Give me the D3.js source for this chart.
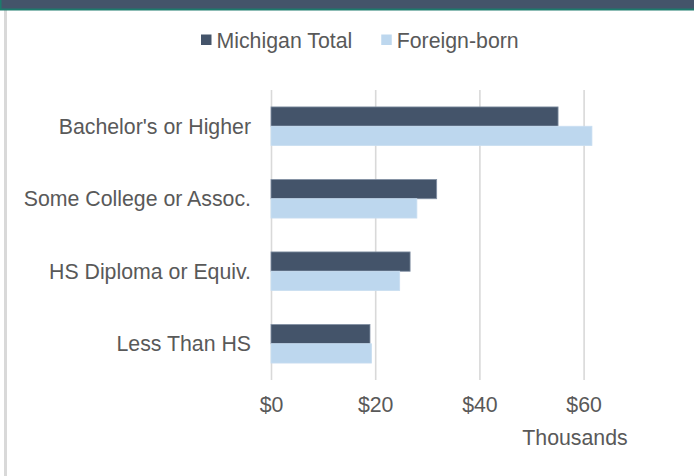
<!DOCTYPE html>
<html>
<head>
<meta charset="utf-8">
<script src="https://cdn.jsdelivr.net/npm/d3@7"></script>
<style>
  html, body { margin: 0; padding: 0; background: #ffffff; }
  svg { display: block; }
  text { font-family: "Liberation Sans", Arial, Helvetica, sans-serif; fill: #595959; }
</style>
</head>
<body>
<svg id="chart" width="694" height="476"></svg>
<script>
// ---- data ----
const categories = ["Bachelor's or Higher", "Some College or Assoc.", "HS Diploma or Equiv.", "Less Than HS"];
const seriesNames = ["Michigan Total", "Foreign-born"];
const michiganTotal = [55.1, 31.8, 26.7, 19.0];
const foreignBorn = [61.6, 28.0, 24.7, 19.3];
const tickValues = [0, 20, 40, 60];
const tickLabels = ["$0", "$20", "$40", "$60"];
const unitsLabel = "Thousands";

// ---- styling ----
const colors = { "Michigan Total": "#44546a", "Foreign-born": "#bdd7ee" };
const strokes = { "Michigan Total": "#8391a5", "Foreign-born": "#c9def1" };
const fontSize = 21.3;

const svg = d3.select("#chart");
const W = 694, H = 476;

// frame: header band + left border
svg.append("rect").attr("x", 0).attr("y", 0).attr("width", W).attr("height", H).attr("fill", "#ffffff");
svg.append("rect").attr("x", 4).attr("y", 10).attr("width", 3).attr("height", H - 10).attr("fill", "#d9d9d9");
svg.append("rect").attr("x", 0).attr("y", 0).attr("width", W).attr("height", 10.5).attr("fill", "#1d7a6c");
svg.append("rect").attr("x", 1.5).attr("y", 0).attr("width", W - 1.5).attr("height", 8.5).attr("fill", "#44546a");

// scales
const x = d3.scaleLinear().domain([0, 80]).range([271, 687.8]);
const plotTop = 90, plotBottom = 380;
const y = d3.scaleBand().domain(categories).range([plotTop, plotBottom]).paddingInner(0.467).paddingOuter(0.2335);
const ySub = d3.scaleBand().domain(seriesNames).range([0, y.bandwidth()]);

// gridlines + tick labels via axis
const xAxis = d3.axisBottom(x)
  .tickValues(tickValues)
  .tickFormat((d, i) => tickLabels[i])
  .tickSize(-(plotBottom - plotTop))
  .tickSizeOuter(0);
const gx = svg.append("g").attr("transform", `translate(0,${plotBottom})`).call(xAxis);
gx.select(".domain").remove();
gx.selectAll(".tick line").attr("stroke", "#d9d9d9").attr("stroke-width", 1.6);
gx.selectAll(".tick text")
  .attr("y", 32).attr("dy", 0)
  .style("font-size", fontSize + "px")
  .style("font-family", '"Liberation Sans", Arial, sans-serif')
  .attr("fill", "#595959");

// bars
const rows = categories.map((c, i) => ({ cat: c, values: [
  { s: "Michigan Total", v: michiganTotal[i] },
  { s: "Foreign-born", v: foreignBorn[i] }
]}));
const groups = svg.append("g").selectAll("g").data(rows).join("g")
  .attr("transform", d => `translate(0,${y(d.cat)})`);
groups.selectAll("rect").data(d => d.values).join("rect")
  .attr("x", x(0))
  .attr("y", d => ySub(d.s))
  .attr("width", d => x(d.v) - x(0))
  .attr("height", ySub.bandwidth())
  .attr("fill", d => colors[d.s])
  .attr("stroke", d => strokes[d.s])
  .attr("stroke-width", 0.8);

// category axis
const yAxis = d3.axisLeft(y).tickSize(0).tickPadding(20);
const gy = svg.append("g").attr("transform", `translate(${x(0)},0)`).call(yAxis);
gy.select(".domain").remove();
gy.selectAll(".tick text")
  .attr("dy", "0.35em")
  .style("font-size", fontSize + "px")
  .style("font-family", '"Liberation Sans", Arial, sans-serif')
  .attr("fill", "#595959");

// units label
svg.append("text")
  .attr("x", 575).attr("y", 445)
  .attr("text-anchor", "middle")
  .style("font-size", fontSize + "px")
  .text(unitsLabel);

// legend
const legend = svg.append("g");
let lx = 201;
seriesNames.forEach((s, i) => {
  legend.append("rect").attr("x", lx).attr("y", 34.5).attr("width", 10.5).attr("height", 10.5).attr("fill", colors[s]);
  const t = legend.append("text").attr("x", lx + 15.5).attr("y", 48).style("font-size", fontSize + "px").text(s);
  lx = lx + 15.5 + t.node().getComputedTextLength() + 29;
});
</script>
</body>
</html>
